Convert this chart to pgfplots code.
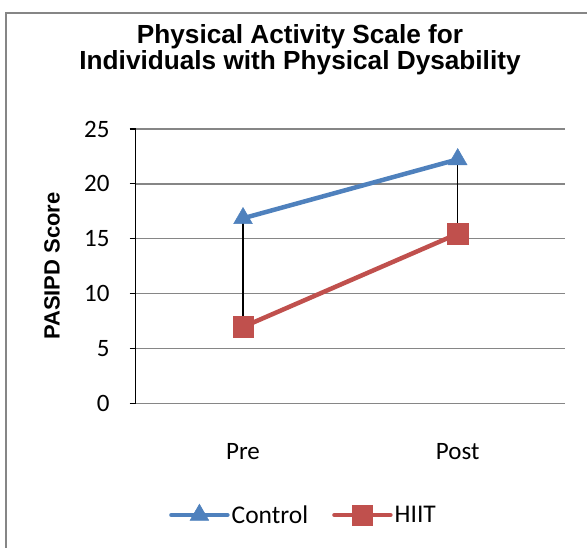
\documentclass[border=0pt]{standalone}
\usepackage{fontspec}
\setmainfont{Carlito}
\newfontfamily\arialfont{Liberation Sans}
\usepackage{pgfplots}
\pgfplotsset{compat=1.18}
\definecolor{cblue}{HTML}{4F81BD}
\definecolor{cred}{HTML}{C0504D}
\definecolor{cgrid}{HTML}{868686}
\begin{document}
\begin{tikzpicture}[x=1bp,y=1bp]
\useasboundingbox (0,0) rectangle (587,548);
\draw[cgrid, line width=1.5bp] (6,535) rectangle (600,-20);
\node[font=\arialfont\bfseries\fontsize{26.2bp}{26bp}\selectfont, align=center] at (300,498.5) {Physical Activity Scale for\\Individuals with Physical Dysability};
\node[rotate=90, font=\arialfont\bfseries\fontsize{22bp}{25bp}\selectfont] at (52,282) {PASIPD Score};
\begin{axis}[
  at={(135.7bp,144.7bp)}, anchor=south west,
  scale only axis, width=429.3bp, height=274.3bp,
  xmin=-0.5, xmax=1.5, ymin=0, ymax=25,
  xtick={0,1}, xticklabels={Pre,Post},
  ytick={0,5,10,15,20,25},
  ymajorgrids, grid style={cgrid, line width=1.5bp},
  axis x line*=bottom, axis y line*=left,
  x axis line style={cgrid, line width=1.5bp, -},
  y axis line style={black, line width=1.2bp, -},
  xtick style={draw=none},
  ytick style={black, line width=1.2bp},
  tick align=outside, major tick length=6bp,
  tick label style={font=\fontsize{25bp}{28bp}\selectfont},
  /pgf/number format/assume math mode=true,
  yticklabel style={anchor=east, inner sep=0pt, xshift=-20bp},
  xticklabel style={anchor=north, inner sep=0pt, yshift=-34bp},
  legend columns=2,
  legend style={at={(0.3909,-0.4072)}, anchor=center, draw=none, fill=none,
    font=\fontsize{25.5bp}{28bp}\selectfont,
    nodes={inner sep=2bp},
    /tikz/every even column/.append style={column sep=22bp}},
  legend image code/.code={\draw[mark repeat=2,mark phase=2,#1] plot coordinates {(0bp,0bp) (28bp,0bp) (56bp,0bp)};},
  clip=false,
]
\addplot[cblue, line width=4.5bp, line cap=round, mark=triangle*, mark size=10.8bp, mark options={line width=0.5bp}] coordinates {(0,16.86) (1,22.23)};
\addlegendentry{Control}
\addplot[cred, line width=4.5bp, line cap=round, mark=square*, mark size=10.2bp, mark options={line width=0.5bp}] coordinates {(0,6.96) (1,15.45)};
\addlegendentry{HIIT}
\addplot[black, line width=1.5bp, forget plot] coordinates {(0,6.96) (0,16.86)};
\addplot[black, line width=1.5bp, forget plot] coordinates {(1,15.45) (1,22.23)};
\end{axis}
\end{tikzpicture}
\end{document}
